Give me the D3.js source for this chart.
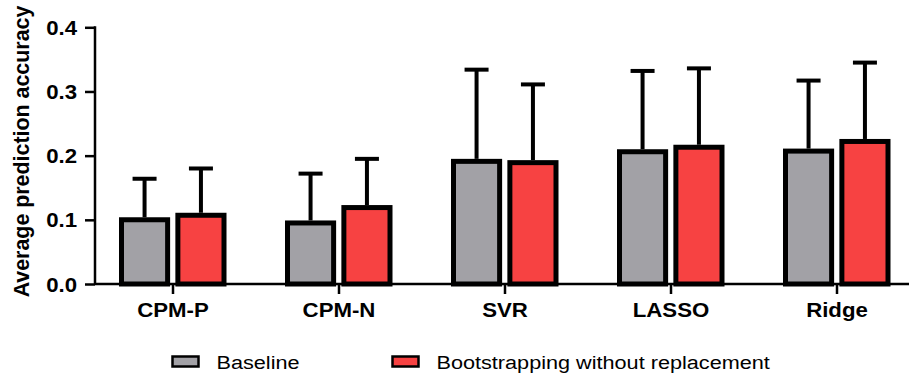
<!DOCTYPE html>
<html>
<head>
<meta charset="utf-8">
<script src="https://cdn.jsdelivr.net/npm/d3@7"></script>
<style>
  html, body { margin: 0; padding: 0; background: #fff; }
  svg { display: block; }
  text { font-family: "Liberation Sans", Arial, Helvetica, sans-serif; }
</style>
</head>
<body>
<svg id="chart" width="909" height="378"></svg>
<script>
// Model names along the x axis
const categories = ["CPM-P", "CPM-N", "SVR", "LASSO", "Ridge"];
const seriesNames = ["Baseline", "Bootstrapping without replacement"];

// Mean prediction accuracy per model
const baselineMean  = [0.104, 0.099, 0.195, 0.210, 0.211];
const bootstrapMean = [0.111, 0.123, 0.193, 0.217, 0.226];

// Standard deviation (upper error bar only)
const baselineSD  = [0.060, 0.073, 0.139, 0.122, 0.106];
const bootstrapSD = [0.069, 0.072, 0.118, 0.119, 0.119];

const yTicks = [0, 0.1, 0.2, 0.3, 0.4];
const seriesColors = ["#a2a1a6", "#f74242"];

const W = 909, H = 378;
const axisX = 95, axisY = 284;
const svg = d3.select("#chart");

const y = d3.scaleLinear().domain([0, 0.4]).range([axisY, 27.3]);
const x0 = d3.scaleBand().domain(categories).range([90, 920]);
const x1 = d3.scaleBand().domain(seriesNames).range([-54, 53.5]).paddingInner(0.093);
const color = d3.scaleOrdinal().domain(seriesNames).range(seriesColors);

const rows = categories.map((c, i) => ({
  cat: c,
  values: [
    { s: seriesNames[0], mean: baselineMean[i], sd: baselineSD[i] },
    { s: seriesNames[1], mean: bootstrapMean[i], sd: bootstrapSD[i] }
  ]
}));

const textScale = 1.14; // horizontal stretch applied to text glyphs

// Bars and error bars
const groups = svg.append("g").selectAll("g").data(rows).join("g")
  .attr("transform", d => `translate(${x0(d.cat) + x0.bandwidth() / 2},0)`);

const sw = 5;
const bars = groups.selectAll("g.bar").data(d => d.values).join("g").attr("class", "bar");

// error bar stem and cap
bars.append("line")
  .attr("x1", d => x1(d.s) + x1.bandwidth() / 2)
  .attr("x2", d => x1(d.s) + x1.bandwidth() / 2)
  .attr("y1", d => y(d.mean))
  .attr("y2", d => y(d.mean + d.sd))
  .attr("stroke", "#000").attr("stroke-width", 4);
bars.append("line")
  .attr("x1", d => x1(d.s) + x1.bandwidth() / 2 - 12)
  .attr("x2", d => x1(d.s) + x1.bandwidth() / 2 + 12)
  .attr("y1", d => y(d.mean + d.sd))
  .attr("y2", d => y(d.mean + d.sd))
  .attr("stroke", "#000").attr("stroke-width", 4);

bars.append("rect")
  .attr("x", d => x1(d.s) + sw / 2)
  .attr("y", d => y(d.mean) + sw / 2)
  .attr("width", x1.bandwidth() - sw)
  .attr("height", d => y(0) - y(d.mean) - sw / 2)
  .attr("fill", d => color(d.s))
  .attr("stroke", "#000")
  .attr("stroke-width", sw);

// Y axis
const yAxis = svg.append("g")
  .attr("transform", `translate(${axisX},0)`)
  .call(d3.axisLeft(y).tickValues(yTicks).tickFormat(d3.format(".1f")).tickSize(10).tickPadding(8));
yAxis.select(".domain").attr("stroke", "#000").attr("stroke-width", 2.5)
  .attr("d", `M0,${y(0.4) - 1}V${axisY}`);
yAxis.selectAll(".tick line").attr("stroke", "#000").attr("stroke-width", 2.5);
yAxis.selectAll(".tick text")
  .attr("font-size", 19.5).attr("font-weight", "bold").attr("fill", "#000")
  .attr("font-family", "Liberation Sans, Arial, sans-serif")
  .attr("dy", "0.36em")
  .attr("transform", `scale(${textScale},1)`)
  .attr("x", -18 / textScale);

// X axis
const xAxis = svg.append("g")
  .attr("transform", `translate(0,${axisY})`)
  .call(d3.axisBottom(x0).tickSize(10).tickPadding(12));
xAxis.select(".domain").attr("stroke", "#000").attr("stroke-width", 2.5)
  .attr("d", `M${axisX},0H${W}`);
xAxis.selectAll(".tick line").attr("stroke", "#000").attr("stroke-width", 2.5);
xAxis.selectAll(".tick text")
  .attr("font-size", 19.5).attr("font-weight", "bold").attr("fill", "#000")
  .attr("font-family", "Liberation Sans, Arial, sans-serif")
  .attr("y", 0).attr("dy", 0)
  .attr("transform", `translate(0,32.5) scale(${textScale},1)`);

// Y axis title
svg.append("text")
  .attr("transform", "translate(28.5,151.5) rotate(-90)")
  .attr("text-anchor", "middle")
  .attr("font-size", 21.4).attr("font-weight", "bold")
  .text("Average prediction accuracy");

// Legend
const legendX = [172.5, 392.5];
const legend = svg.append("g").selectAll("g").data(seriesNames).join("g")
  .attr("transform", (d, i) => `translate(${legendX[i]},356.5)`);
legend.append("rect")
  .attr("width", 26).attr("height", 10)
  .attr("fill", d => color(d)).attr("stroke", "#000").attr("stroke-width", 2.5);
legend.append("text")
  .attr("transform", `translate(44,12.5) scale(${textScale},1)`)
  .attr("font-size", 19)
  .text(d => d);
</script>
</body>
</html>
